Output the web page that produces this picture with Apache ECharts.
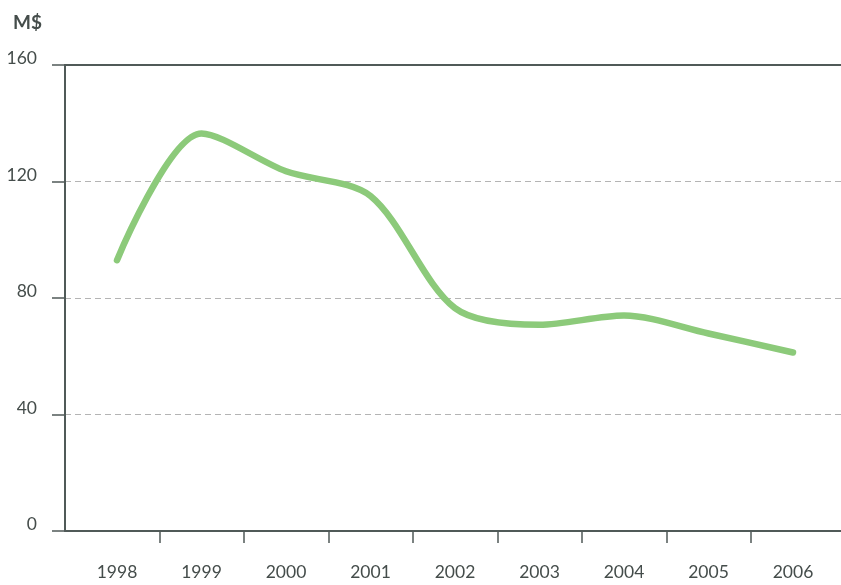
<!DOCTYPE html>
<html>
<head>
<meta charset="utf-8">
<script src="https://cdn.jsdelivr.net/npm/echarts@6/dist/echarts.min.js"></script>
<style>html,body{margin:0;padding:0;background:#fff;}#c{width:841px;height:585px;}</style>
</head>
<body>
<div id="c"></div>
<script>
var years = ['1998','1999','2000','2001','2002','2003','2004','2005','2006'];
var values = [93, 136.5, 123.5, 115, 76.5, 70.8, 74, 67.8, 61.3];
var yTicks = [0, 40, 80, 120, 160];

var axisColor = '#505a58';
var textColor = '#454d4b';
var font = 'Lato';

var chart = echarts.init(document.getElementById('c'));
var idx = years.map(function(_, i){ return i; });
var between = years.slice(1).map(function(_, i){ return i + 0.5; });
var xMin = (65 - 117) / 84.5, xMax = (841 - 117) / 84.5;

chart.setOption({
  animation: false,
  title: {
    text: 'M$', left: 13, top: 13, padding: 0,
    textStyle: { fontFamily: font, fontSize: 19, fontWeight: 'bold', color: textColor }
  },
  grid: { left: 65, right: 0, top: 65, bottom: 54 },
  xAxis: [{
    type: 'value', min: xMin, max: xMax, position: 'bottom',
    axisLine: { show: true, onZero: false, lineStyle: { color: axisColor, width: 2 } },
    axisTick: { show: true, customValues: between, length: 12, lineStyle: { color: axisColor, width: 1.5 } },
    axisLabel: {
      customValues: idx, margin: 32, fontFamily: font, fontSize: 17.5, color: textColor,
      formatter: function(v){ return years[Math.round(v)]; }
    },
    splitLine: { show: false }
  }, {
    type: 'value', min: xMin, max: xMax, position: 'top',
    axisLine: { show: true, onZero: false, lineStyle: { color: axisColor, width: 2 } },
    axisTick: { show: false }, axisLabel: { show: false }, splitLine: { show: false }
  }],
  yAxis: {
    type: 'value', min: 0, max: 160, interval: 40, position: 'left',
    axisLine: { show: true, onZero: false, lineStyle: { color: axisColor, width: 2 } },
    axisTick: { show: true, length: 13, lineStyle: { color: axisColor, width: 1.5 } },
    axisLabel: {
      margin: 28, fontFamily: font, fontSize: 17.5, color: textColor,
      verticalAlign: 'bottom', lineHeight: 13,
      formatter: function(v){ return yTicks.indexOf(v) >= 0 ? String(v) : ''; }
    },
    splitLine: { show: true, lineStyle: { color: '#b4b4b4', type: [6, 4], width: 1 } }
  },
  series: [{
    type: 'line', xAxisIndex: 0,
    data: values.map(function(v, i){ return [i, v]; }),
    smooth: 0.3, showSymbol: false,
    lineStyle: { color: '#8cca7a', width: 6.5, cap: 'round', join: 'round' }
  }]
});
</script>
</body>
</html>
